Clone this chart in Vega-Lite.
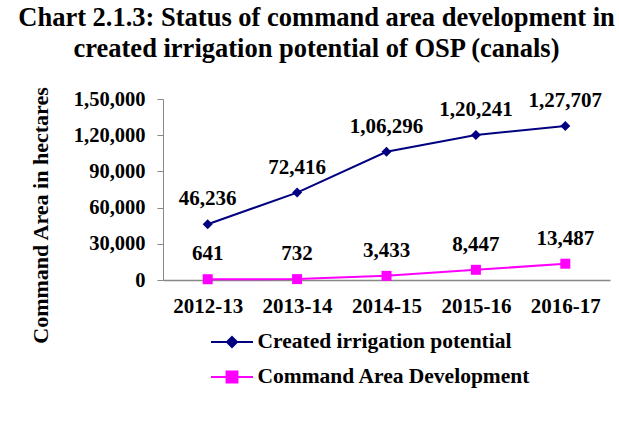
{
  "$schema": "https://vega.github.io/schema/vega-lite/v6.json",
  "width": 447,
  "height": 181,
  "autosize": {"type": "none"},
  "padding": {"left": 163, "top": 99, "right": 9, "bottom": 142},
  "background": "white",
  "config": {"view": {"stroke": null}, "font": "Liberation Serif"},
  "title": {
    "text": ["Chart 2.1.3: Status of command area development in", "created irrigation potential of OSP (canals)"],
    "font": "Liberation Serif",
    "fontSize": 26.5,
    "fontWeight": "bold",
    "color": "black",
    "anchor": "middle",
    "frame": "group",
    "dx": -70,
    "dy": -20,
    "lineHeight": 31
  },
  "data": {
    "values": [
      {"year": "2012-13", "series": "Created irrigation potential", "v": 46236},
      {"year": "2013-14", "series": "Created irrigation potential", "v": 72416},
      {"year": "2014-15", "series": "Created irrigation potential", "v": 106296},
      {"year": "2015-16", "series": "Created irrigation potential", "v": 120241},
      {"year": "2016-17", "series": "Created irrigation potential", "v": 127707},
      {"year": "2012-13", "series": "Command Area Development", "v": 641},
      {"year": "2013-14", "series": "Command Area Development", "v": 732},
      {"year": "2014-15", "series": "Command Area Development", "v": 3433},
      {"year": "2015-16", "series": "Command Area Development", "v": 8447},
      {"year": "2016-17", "series": "Command Area Development", "v": 13487}
    ]
  },
  "transform": [
    {"calculate": "datum.v >= 100000 ? floor(datum.v / 100000) + ',' + format(datum.v % 100000, '06,') : format(datum.v, ',')", "as": "label"}
  ],
  "encoding": {
    "x": {
      "field": "year",
      "type": "ordinal",
      "sort": null,
      "axis": {
        "title": null,
        "labelAngle": 0,
        "ticks": false,
        "tickSize": 0,
        "labelPadding": 15,
        "labelFont": "Liberation Serif",
        "labelFontSize": 21,
        "labelFontWeight": "bold",
        "labelColor": "black",
        "domainColor": "#888888",
        "domainWidth": 1.5
      }
    },
    "y": {
      "field": "v",
      "type": "quantitative",
      "scale": {"domain": [0, 150000], "nice": false},
      "axis": {
        "title": "Command Area in hectares",
        "titleFont": "Liberation Serif",
        "titleFontSize": 22,
        "titleFontWeight": "bold",
        "titleColor": "black",
        "titleAngle": -90,
        "titleX": -123,
        "titleY": 116,
        "titleAlign": "center",
        "titleBaseline": "middle",
        "values": [0, 30000, 60000, 90000, 120000, 150000],
        "labelExpr": "datum.value >= 100000 ? floor(datum.value / 100000) + ',' + format(datum.value % 100000, ',') : format(datum.value, ',')",
        "labelFont": "Liberation Serif",
        "labelFontSize": 20.5,
        "labelFontWeight": "bold",
        "labelColor": "black",
        "labelPadding": 12,
        "tickSize": 6,
        "tickColor": "#888888",
        "domainColor": "#888888",
        "grid": false
      }
    },
    "color": {
      "field": "series",
      "type": "nominal",
      "scale": {"domain": ["Created irrigation potential", "Command Area Development"], "range": ["#000080", "#FF00FF"]},
      "legend": {
        "orient": "none",
        "legendX": 57.5,
        "legendY": 231.5,
        "title": null,
        "padding": 0,
        "symbolSize": 441,
        "labelOffset": 14,
        "labelFont": "Liberation Serif",
        "labelFontSize": 21.5,
        "labelFontWeight": "bold",
        "labelColor": "black",
        "labelLimit": 400,
        "rowPadding": 13,
        "symbolStrokeWidth": 2,
        "encode": {
          "symbols": {
            "update": {
              "shape": {"signal": "datum.value === 'Created irrigation potential' ? 'M-2,0L2,0M0,-0.48L0.48,0L0,0.48L-0.48,0Z' : 'M-2,0L2,0M-0.52,-0.52L0.52,-0.52L0.52,0.52L-0.52,0.52Z'"},
              "fill": {"scale": "color", "field": "value"},
              "stroke": {"scale": "color", "field": "value"},
              "strokeWidth": {"value": 2},
              "opacity": {"value": 1}
            }
          }
        }
      }
    }
  },
  "layer": [
    {"mark": {"type": "line", "strokeWidth": 2}},
    {
      "transform": [{"filter": "datum.series === 'Created irrigation potential'"}],
      "mark": {"type": "point", "filled": true, "opacity": 1, "shape": "diamond", "size": 100}
    },
    {
      "transform": [{"filter": "datum.series === 'Command Area Development'"}],
      "mark": {"type": "point", "filled": true, "opacity": 1, "shape": "square", "size": 100}
    },
    {
      "mark": {"type": "text", "dy": -19, "baseline": "alphabetic", "font": "Liberation Serif", "fontSize": 21, "fontWeight": "bold"},
      "encoding": {"text": {"field": "label"}, "color": {"value": "black"}}
    }
  ]
}
